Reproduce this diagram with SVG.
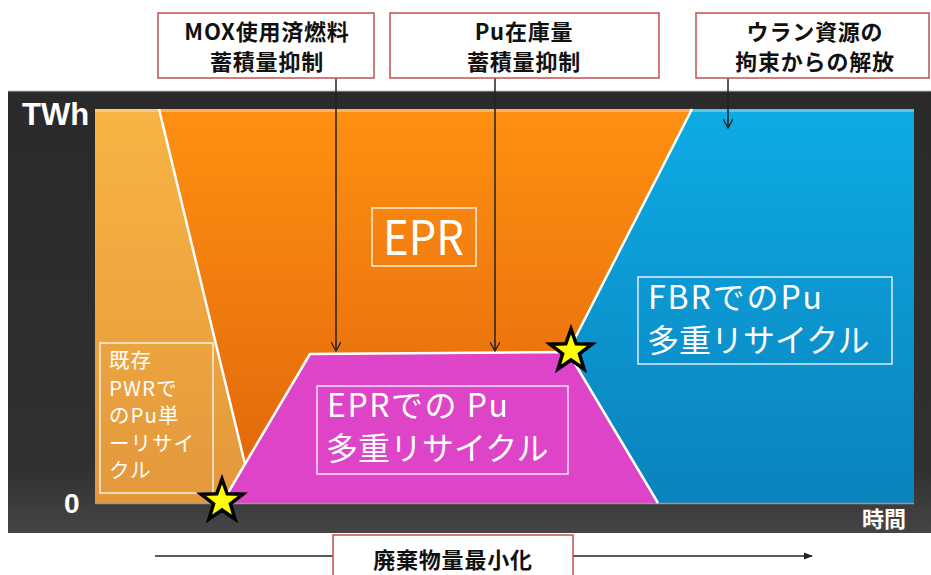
<svg xmlns="http://www.w3.org/2000/svg" width="931" height="575" viewBox="0 0 931 575">
<defs>
<linearGradient id="gPanel" x1="0" y1="0" x2="0" y2="1">
<stop offset="0" stop-color="#2a2a2a"/><stop offset="0.85" stop-color="#303030"/><stop offset="1" stop-color="#454545"/>
</linearGradient>
<linearGradient id="gLight" x1="0" y1="0" x2="0" y2="1">
<stop offset="0" stop-color="#F8B444"/><stop offset="1" stop-color="#E3983C"/>
</linearGradient>
<linearGradient id="gDark" x1="0" y1="0" x2="0" y2="1">
<stop offset="0" stop-color="#FF9012"/><stop offset="1" stop-color="#E2690A"/>
</linearGradient>
<linearGradient id="gBlue" x1="0" y1="0" x2="0" y2="1">
<stop offset="0" stop-color="#0EABE5"/><stop offset="1" stop-color="#0A82BC"/>
</linearGradient>
<marker id="vArrow" viewBox="0 0 10 10" refX="9" refY="5" markerWidth="10" markerHeight="10" markerUnits="userSpaceOnUse" orient="auto">
<path d="M0,0 L9,5 L0,10" fill="none" stroke="#222" stroke-width="1.3"/>
</marker>
<marker id="fArrow" viewBox="0 0 10 10" refX="9" refY="5" markerWidth="9" markerHeight="9" markerUnits="userSpaceOnUse" orient="auto">
<path d="M0,1 L10,5 L0,9 Z" fill="#222"/>
</marker>
<polygon id="star" points="0,-22 5.2,-7.2 21,-6.8 8.4,2.8 13,18 0,9 -13,18 -8.4,2.8 -21,-6.8 -5.2,-7.2"/>
</defs>
<style>
.jp{font-family:"Noto Sans CJK JP","Noto Sans","Liberation Sans",sans-serif}
.lbl{font-size:22px;font-weight:bold;fill:#111;text-anchor:middle;letter-spacing:0.8px}
.redbox{fill:#fff;stroke:#C0504D;stroke-width:1.5}
.wt{fill:#fff}
.pwr{fill:#fff;font-size:20.5px;letter-spacing:1px}
.big{fill:#fff;font-size:32px}
.inbox{fill:none;stroke:#fff;stroke-width:1.5;stroke-opacity:0.85}
.sep{fill:none;stroke:#fff;stroke-width:2.5;stroke-linejoin:round}
.conn{stroke:#222;stroke-width:1.5;fill:none}
.star{fill:#FFFF00;stroke:#000;stroke-width:3.5;stroke-linejoin:miter}
</style>
<rect width="931" height="575" fill="#fff"/>
<g id="panel">
<rect x="8" y="91" width="923" height="442" fill="url(#gPanel)"/>
<line x1="8" y1="91" x2="931" y2="91" stroke="#bdbdbd" stroke-width="1"/>
</g>
<g id="areas">
<polygon id="pwr-area" points="95,109 159,109 245,464 222,503 95,503" fill="url(#gLight)"/>
<polygon id="epr-area" points="159,109 692,109 568,352 310,354 245,464" fill="url(#gDark)"/>
<polygon id="epr-pu-area" points="222,503 310,354 568,352 658,503" fill="#DD44C8"/>
<polygon id="fbr-area" points="692,109 914,109 914,503 658,503 568,352" fill="url(#gBlue)"/>
<line x1="95" y1="110.5" x2="914" y2="110.5" stroke="#fff" stroke-opacity="0.3" stroke-width="3"/>
<line x1="95" y1="503.5" x2="914" y2="503.5" stroke="#9a9a9a" stroke-width="1.5"/>
<polyline class="sep" points="159,109 245,464"/>
<polyline class="sep" points="222,503 310,354 568,352 658,503"/>
<polyline class="sep" points="692,109 568,352"/>
</g>
<g id="axis-labels" class="jp">
<text x="22" y="125" font-size="31" font-weight="bold" class="wt" font-family="'Liberation Sans',sans-serif">TWh</text>
<text x="64" y="513" font-size="28" font-weight="bold" class="wt" font-family="'Liberation Sans',sans-serif">0</text>
<text x="862" y="527" font-size="22" font-weight="bold" class="wt">時間</text>
</g>
<g id="node-pwr" class="jp">
<rect class="inbox" x="100" y="343" width="113" height="150" stroke="#F6DDB0"/>
<text class="pwr" x="109" y="368">既存</text>
<text class="pwr" x="109" y="395.5">PWRで</text>
<text class="pwr" x="109" y="423">のPu単</text>
<text class="pwr" x="109" y="450.5">ーリサイ</text>
<text class="pwr" x="109" y="478">クル</text>
</g>
<g id="node-epr" class="jp">
<rect class="inbox" x="372" y="208" width="104" height="58"/>
<text class="wt" x="383" y="255" font-size="48" textLength="81" lengthAdjust="spacingAndGlyphs">EPR</text>
</g>
<g id="node-epr-pu" class="jp">
<rect class="inbox" x="317" y="386" width="251" height="88"/>
<text class="big" x="327" y="417" textLength="181">EPRでの Pu</text>
<text class="big" x="326" y="460">多重リサイクル</text>
</g>
<g id="node-fbr" class="jp">
<rect class="inbox" x="638" y="277" width="254" height="87"/>
<text class="big" x="648" y="309" textLength="174">FBRでのPu</text>
<text class="big" x="647" y="352">多重リサイクル</text>
</g>
<g id="connectors">
<line class="conn" x1="336" y1="78" x2="336" y2="351" marker-end="url(#vArrow)"/>
<line class="conn" x1="495" y1="78" x2="495" y2="351" marker-end="url(#vArrow)"/>
<line class="conn" x1="728" y1="78" x2="728" y2="128" marker-end="url(#vArrow)"/>
<line class="conn" x1="155" y1="556" x2="812" y2="556" marker-end="url(#fArrow)"/>
</g>
<g id="node-mox" class="jp">
<rect class="redbox" x="158" y="13" width="216" height="65"/>
<text class="lbl" x="267" y="40">MOX使用済燃料</text>
<text class="lbl" x="267" y="70">蓄積量抑制</text>
</g>
<g id="node-pu" class="jp">
<rect class="redbox" x="390" y="13" width="269" height="65"/>
<text class="lbl" x="524" y="40">Pu在庫量</text>
<text class="lbl" x="524" y="70">蓄積量抑制</text>
</g>
<g id="node-uranium" class="jp">
<rect class="redbox" x="696" y="13" width="233" height="65"/>
<text class="lbl" x="815" y="40">ウラン資源の</text>
<text class="lbl" x="815" y="70">拘束からの解放</text>
</g>
<g id="node-waste" class="jp">
<rect class="redbox" x="333" y="535" width="240" height="50"/>
<text class="lbl" x="453" y="568" font-size="27">廃棄物量最小化</text>
</g>
<g id="stars">
<use href="#star" class="star" x="222" y="501"/>
<use href="#star" class="star" x="571" y="351"/>
</g>
</svg>
